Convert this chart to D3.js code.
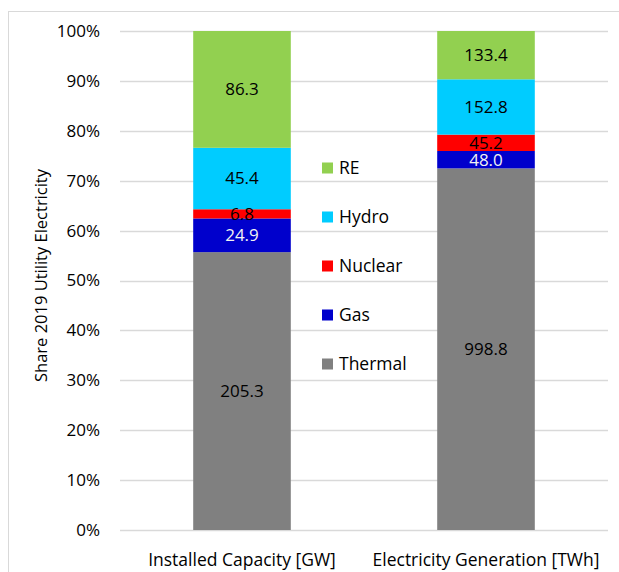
<html>
<head>
<script src="https://cdnjs.cloudflare.com/ajax/libs/d3/7.8.5/d3.min.js"></script>
<style>
  body { margin: 0; background: #fff; }
  text { font-family: "Open Sans", sans-serif; }
</style>
</head>
<body>
<div class="chart"></div>
<script>
const width = 619;
const height = 572;

// data
const categories = ["Installed Capacity [GW]", "Electricity Generation [TWh]"];
const sources = ["Thermal", "Gas", "Nuclear", "Hydro", "RE"];
const thermal = [205.3, 998.8];
const gas = [24.9, 48.0];
const nuclear = [6.8, 45.2];
const hydro = [45.4, 152.8];
const re = [86.3, 133.4];
const yTicks = [0, 0.1, 0.2, 0.3, 0.4, 0.5, 0.6, 0.7, 0.8, 0.9, 1.0];

const colors = {
  Thermal: "#808080",
  Gas: "#0000CC",
  Nuclear: "#FF0000",
  Hydro: "#00CCFF",
  RE: "#92D050"
};
const labelColors = { Gas: "#f2f2f2" };

const rows = categories.map((c, i) => ({
  cat: c,
  Thermal: thermal[i],
  Gas: gas[i],
  Nuclear: nuclear[i],
  Hydro: hydro[i],
  RE: re[i]
}));

const margin = { top: 31, right: 11, bottom: 42, left: 120 };

const svg = d3.select(".chart").append("svg")
  .attr("width", width)
  .attr("height", height);

// outer border
svg.append("rect")
  .attr("x", 8.5).attr("y", 11.5)
  .attr("width", width).attr("height", height)
  .attr("fill", "none")
  .attr("stroke", "#d9d9d9");

const x = d3.scaleBand()
  .domain(categories)
  .range([margin.left, width - margin.right])
  .paddingInner(0.6)
  .paddingOuter(0.3);

const y = d3.scaleLinear()
  .domain([0, 1])
  .range([height - margin.bottom, margin.top]);

// gridlines
svg.append("g")
  .selectAll("line")
  .data(yTicks)
  .enter().append("line")
  .attr("x1", margin.left)
  .attr("x2", width - margin.right)
  .attr("y1", d => Math.round(y(d)) + 0.5)
  .attr("y2", d => Math.round(y(d)) + 0.5)
  .attr("stroke", "#d9d9d9")
  .attr("stroke-width", 1.5);

// y axis labels
const yAxis = svg.append("g")
  .attr("transform", `translate(${margin.left - 20},0)`)
  .call(d3.axisLeft(y).tickValues(yTicks).tickSize(0).tickFormat(d3.format(".0%")));
yAxis.select(".domain").remove();
yAxis.selectAll("text")
  .attr("font-size", 17)
  .attr("fill", "#000")
  .attr("x", 0)
  .style("font-family", "Open Sans, sans-serif");

// stacked, normalised
const stack = d3.stack().keys(sources).offset(d3.stackOffsetExpand);
const series = stack(rows);

const layers = svg.append("g")
  .selectAll("g")
  .data(series)
  .enter().append("g")
  .attr("fill", d => colors[d.key]);

layers.selectAll("rect")
  .data(d => d)
  .enter().append("rect")
  .attr("x", d => x(d.data.cat))
  .attr("width", x.bandwidth())
  .attr("y", d => y(d[1]))
  .attr("height", d => y(d[0]) - y(d[1]));

// value labels
series.forEach(s => {
  svg.append("g")
    .selectAll("text")
    .data(s)
    .enter().append("text")
    .attr("x", d => x(d.data.cat) + x.bandwidth() / 2)
    .attr("y", d => (y(d[0]) + y(d[1])) / 2)
    .attr("dy", "0.35em")
    .attr("text-anchor", "middle")
    .attr("font-size", 17)
    .attr("fill", labelColors[s.key] || "#000")
    .text(d => d.data[s.key].toFixed(1));
});

// x labels
svg.append("g")
  .selectAll("text")
  .data(categories)
  .enter().append("text")
  .attr("x", d => x(d) + x.bandwidth() / 2)
  .attr("y", 566)
  .attr("text-anchor", "middle")
  .attr("font-size", 17.5)
  .attr("fill", "#000")
  .text(d => d);

// y title
svg.append("text")
  .attr("transform", `translate(47,${(margin.top + height - margin.bottom) / 2 - 5}) rotate(-90)`)
  .attr("text-anchor", "middle")
  .attr("font-size", 16.5)
  .attr("fill", "#000")
  .text("Share 2019 Utility Electricity");

// legend
const legend = svg.append("g")
  .attr("transform", "translate(322,168)");
const legendItems = legend.selectAll("g")
  .data(sources.slice().reverse())
  .enter().append("g")
  .attr("transform", (d, i) => `translate(0,${i * 49})`);
legendItems.append("rect")
  .attr("x", 0).attr("y", -5.5)
  .attr("width", 11).attr("height", 11)
  .attr("fill", d => colors[d]);
legendItems.append("text")
  .attr("x", 17)
  .attr("dy", "0.35em")
  .attr("font-size", 17.5)
  .attr("fill", "#000")
  .text(d => d);
</script>
</body>
</html>
